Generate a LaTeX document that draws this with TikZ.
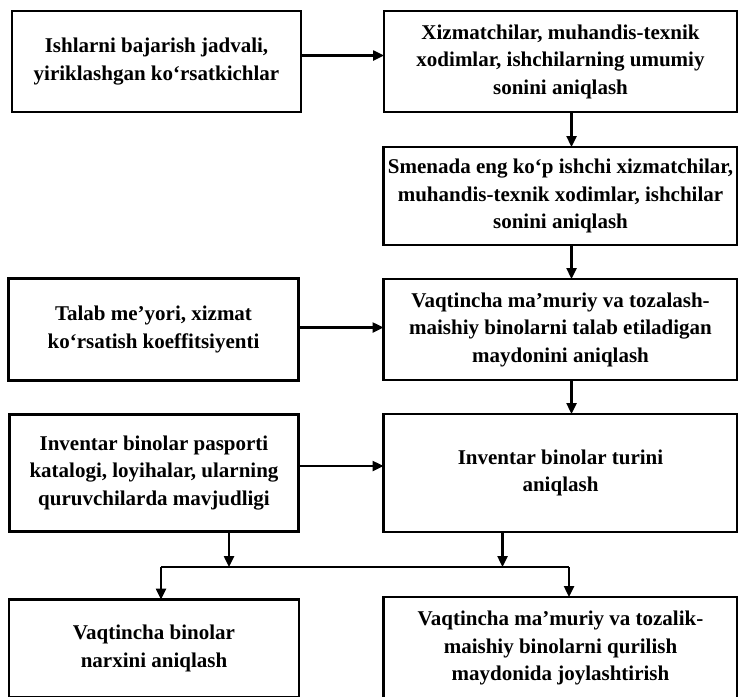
\documentclass[tikz,border=0pt]{standalone}
\usepackage{fontspec}
\setmainfont{Liberation Serif}
\usepackage{tikz}
\usetikzlibrary{arrows.meta,positioning}
\tikzset{
  basebox/.style={rectangle,draw=black,line width=2.6pt,outer sep=0pt,inner sep=2pt,
                  align=center,font=\bfseries\fontsize{21}{27.5}\selectfont},
  leftnode/.style={basebox,minimum width=290pt,minimum height=102pt},
  rightnode/.style={basebox,minimum width=354pt,minimum height=101pt},
  arr/.style={-{Triangle[width=10pt,length=11pt]},line width=2.4pt},
  lin/.style={line width=2.4pt}
}
\begin{document}
\begin{tikzpicture}[x=1pt,y=-1pt]
  \useasboundingbox (0,0) rectangle (738,696);

  % Right column
  \node[rightnode,minimum width=353pt] (total) at (560.5,61.5)
      {Xizmatchilar, muhandis-texnik\\xodimlar, ishchilarning umumiy\\sonini aniqlash};
  \node[rightnode,minimum height=98pt,below=35pt of total] (shift)
      {Smenada eng ko‘p ishchi xizmatchilar,\\muhandis-texnik xodimlar, ishchilar\\sonini aniqlash};
  \node[rightnode,below=34pt of shift] (area)
      {Vaqtincha ma’muriy va tozalash-\\maishiy binolarni talab etiladigan\\maydonini aniqlash};
  \node[rightnode,minimum height=118pt,below=34pt of area] (type)
      {Inventar binolar turini\\aniqlash};
  \node[rightnode,minimum height=102pt,below=65pt of type] (place)
      {Vaqtincha ma’muriy va tozalik-\\maishiy binolarni qurilish\\maydonida joylashtirish};

  % Left column
  \node[leftnode,minimum width=289pt,minimum height=101pt,left=83pt of total] (sched)
      {Ishlarni bajarish jadvali,\\yiriklashgan ko‘rsatkichlar};
  \node[leftnode,left=85pt of area] (norm)
      {Talab me’yori, xizmat\\ko‘rsatish koeffitsiyenti};
  \node[leftnode,minimum width=289pt,minimum height=117pt,left=85pt of type] (invent)
      {Inventar binolar pasporti\\katalogi, loyihalar, ularning\\quruvchilarda mavjudligi};
  \node[leftnode,minimum height=98pt,below=68pt of invent] (cost)
      {Vaqtincha binolar\\narxini aniqlash};

  % Junction line
  \coordinate (jl) at (161,567);
  \coordinate (jr) at (569,567);

  \draw[arr] ([yshift=6pt]sched.east) -- ([yshift=6pt]sched.east -| total.west);
  \draw[arr] ([xshift=11pt]total.south) -- ([xshift=11pt]shift.north);
  \draw[arr] ([xshift=11pt]shift.south) -- ([xshift=11pt]area.north);
  \draw[arr] ([xshift=11pt]area.south) -- ([xshift=11pt]type.north);
  \draw[arr] ([yshift=2pt]norm.east) -- ([yshift=2pt]norm.east -| area.west);
  \draw[arr] ([yshift=7pt]invent.east) -- ([yshift=7pt]invent.east -| type.west);
  \draw[arr] ([xshift=75pt]invent.south) -- ([xshift=75pt]invent.south |- jl);
  \draw[arr] ([xshift=-58pt]type.south) -- ([xshift=-58pt]type.south |- jl);
  \draw[lin] (jl) -- (jr);
  \draw[arr] (jl) -- (jl |- cost.north);
  \draw[arr] (jr) -- (jr |- place.north);

\end{tikzpicture}
\end{document}
